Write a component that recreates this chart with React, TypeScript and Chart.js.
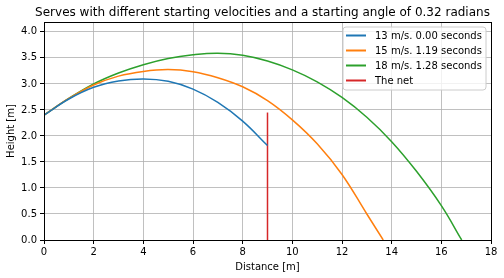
import { useEffect, useRef } from "react";
import { Chart, registerables } from "chart.js";

Chart.register(...registerables);

const FONT = "'DejaVu Sans', 'Liberation Sans', sans-serif";

const chartTitle = "Serves with different starting velocities and a starting angle of 0.32 radians";
const xAxisTitle = "Distance [m]";
const yAxisTitle = "Height [m]";

const seriesLabels = ["13 m/s. 0.00 seconds", "15 m/s. 1.19 seconds", "18 m/s. 1.28 seconds", "The net"];
const seriesColors = ["#1f77b4", "#ff7f0e", "#2ca02c", "#d62728"];

const blueX = [0, 1, 2, 3, 4, 5, 6, 7, 8, 9];
const blueY = [2.4, 2.71, 2.935, 3.055, 3.095, 3.05, 2.9, 2.645, 2.285, 1.815];

const orangeX = [0, 1, 2, 3, 4, 5, 6, 7, 8, 9, 10, 11, 12, 13, 13.66];
const orangeY = [2.4, 2.72, 2.98, 3.15, 3.24, 3.275, 3.235, 3.12, 2.945, 2.68, 2.31, 1.85, 1.26, 0.5, 0];

const greenX = [0, 1, 2, 3, 4, 5, 6, 7, 8, 9, 10, 11, 12, 13, 14, 15, 16, 16.82];
const greenY = [2.4, 2.72, 3.0, 3.21, 3.37, 3.49, 3.56, 3.59, 3.55, 3.44, 3.27, 3.04, 2.74, 2.36, 1.89, 1.32, 0.66, 0];

const netX = [9, 9];
const netY = [0, 2.45];

const xMin = 0;
const xMax = 18;
const xStep = 2;
const yMin = 0;
const yMax = 4.19;
const yStep = 0.5;

const toPoints = (xs: number[], ys: number[]) => xs.map((x, i) => ({ x, y: ys[i] }));

const framePlugin = {
  id: "frame",
  afterDatasetsDraw(chart: any) {
    const { ctx, chartArea } = chart;
    ctx.save();
    ctx.strokeStyle = "#000";
    ctx.lineWidth = 1;
    ctx.strokeRect(
      Math.round(chartArea.left) + 0.5,
      Math.round(chartArea.top) + 0.5,
      Math.round(chartArea.right) - Math.round(chartArea.left),
      Math.round(chartArea.bottom) - Math.round(chartArea.top)
    );
    ctx.restore();
  },
};

const titlePlugin = {
  id: "mplTitle",
  afterDraw(chart: any) {
    const { ctx, chartArea } = chart;
    ctx.save();
    ctx.font = `12px ${FONT}`;
    ctx.fillStyle = "#000";
    ctx.textAlign = "center";
    ctx.textBaseline = "middle";
    ctx.fillText(chartTitle, (chartArea.left + chartArea.right) / 2 - 5, 12.5);
    ctx.restore();
  },
};

const legendPlugin = {
  id: "mplLegend",
  afterDraw(chart: any) {
    const { ctx, chartArea } = chart;
    const datasets = chart.data.datasets;
    const right = chartArea.right - 5;
    const top = chartArea.top + 5;
    const w = 143;
    const rowH = 15;
    const h = 63;
    const left = right - w;
    ctx.save();
    const r = 3;
    ctx.beginPath();
    ctx.moveTo(left + r, top);
    ctx.lineTo(right - r, top);
    ctx.quadraticCurveTo(right, top, right, top + r);
    ctx.lineTo(right, top + h - r);
    ctx.quadraticCurveTo(right, top + h, right - r, top + h);
    ctx.lineTo(left + r, top + h);
    ctx.quadraticCurveTo(left, top + h, left, top + h - r);
    ctx.lineTo(left, top + r);
    ctx.quadraticCurveTo(left, top, left + r, top);
    ctx.closePath();
    ctx.fillStyle = "rgba(255,255,255,0.8)";
    ctx.fill();
    ctx.strokeStyle = "#cccccc";
    ctx.lineWidth = 1;
    ctx.stroke();
    ctx.font = `10px ${FONT}`;
    ctx.textBaseline = "middle";
    ctx.textAlign = "left";
    datasets.forEach((ds: any, i: number) => {
      const y = top + 8.5 + i * rowH;
      ctx.strokeStyle = ds.borderColor;
      ctx.lineWidth = 2;
      ctx.beginPath();
      ctx.moveTo(left + 3, y);
      ctx.lineTo(left + 23, y);
      ctx.stroke();
      ctx.fillStyle = "#000";
      ctx.fillText(ds.label, left + 32, y + 0.5);
    });
    ctx.restore();
  },
};

export default function App() {
  const canvasRef = useRef<HTMLCanvasElement | null>(null);

  useEffect(() => {
    if (!canvasRef.current) return;
    const series = [
      toPoints(blueX, blueY),
      toPoints(orangeX, orangeY),
      toPoints(greenX, greenY),
      toPoints(netX, netY),
    ];
    const chart = new Chart(canvasRef.current, {
      type: "line",
      data: {
        datasets: series.map((data, i) => ({
          label: seriesLabels[i],
          data,
          borderColor: seriesColors[i],
          backgroundColor: seriesColors[i],
          borderWidth: 1.5,
          pointRadius: 0,
          pointHoverRadius: 0,
          fill: false,
          tension: i === 3 ? 0 : 0.4,
        })),
      },
      options: {
        animation: false,
        responsive: true,
        maintainAspectRatio: false,
        events: [],
        layout: { padding: { top: 22, right: 13, left: 0, bottom: 0 } },
        plugins: {
          legend: { display: false },
          title: { display: false },
          tooltip: { enabled: false },
        },
        scales: {
          x: {
            type: "linear",
            min: xMin,
            max: xMax,
            afterFit: (scale: any) => {
              scale.height = 38;
            },
            ticks: {
              stepSize: xStep,
              color: "#000",
              font: { family: FONT, size: 10 },
              padding: 2,
              maxRotation: 0,
              callback: (v: any) => String(v),
            },
            grid: {
              color: "#b0b0b0",
              lineWidth: 0.8,
              tickColor: "#000",
              tickLength: 4,
              tickWidth: 1,
            },
            border: { color: "#000", width: 1 },
            title: {
              display: true,
              text: xAxisTitle,
              color: "#000",
              font: { family: FONT, size: 10 },
              padding: { top: 0, bottom: 5 },
            },
          },
          y: {
            type: "linear",
            min: yMin,
            max: yMax,
            afterFit: (scale: any) => {
              scale.width = 44;
            },
            ticks: {
              stepSize: yStep,
              includeBounds: false,
              color: "#000",
              font: { family: FONT, size: 10 },
              padding: 3,
              callback: (v: any) => Number(v).toFixed(1),
            },
            grid: {
              color: "#b0b0b0",
              lineWidth: 0.8,
              tickColor: "#000",
              tickLength: 4,
              tickWidth: 1,
            },
            border: { color: "#000", width: 1 },
            title: {
              display: true,
              text: yAxisTitle,
              color: "#000",
              font: { family: FONT, size: 10 },
              padding: { top: 5, bottom: 0 },
            },
          },
        },
      },
      plugins: [framePlugin, legendPlugin, titlePlugin],
    } as any);
    return () => chart.destroy();
  }, []);

  return (
    <div style={{ position: "fixed", left: 0, top: 0, width: 504, height: 278, background: "#fff" }}>
      <canvas ref={canvasRef} />
    </div>
  );
}
